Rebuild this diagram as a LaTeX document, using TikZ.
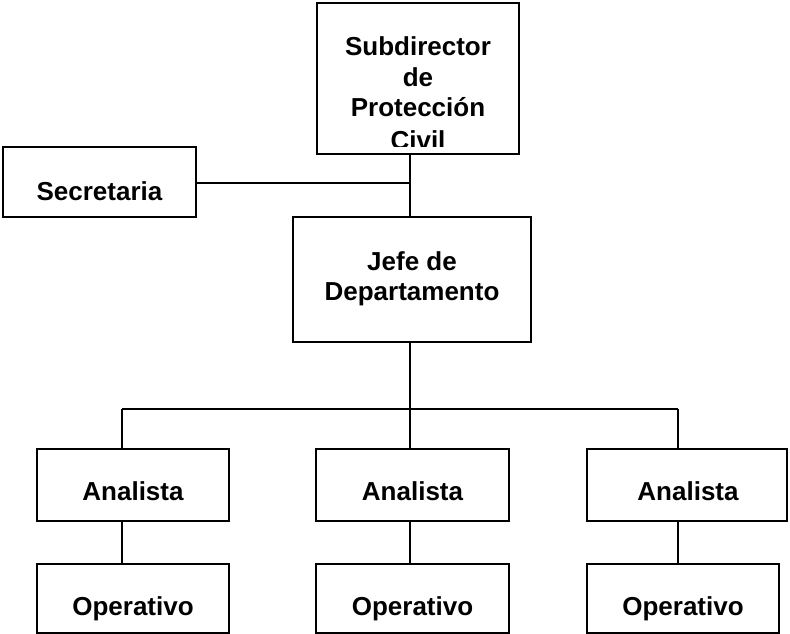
\documentclass[tikz,border=0pt]{standalone}
\usepackage{fontspec}
\setmainfont{Liberation Sans}
\begin{document}
\begin{tikzpicture}[x=1pt,y=-1pt,
  box/.style={draw=black, line width=1.8pt, rectangle, inner sep=0pt},
  lbl/.style={anchor=base, inner sep=0pt, font=\fontsize{26}{30}\selectfont\bfseries},
  conn/.style={draw=black, line width=1.6pt}]
\useasboundingbox (0,0) rectangle (790,634);
% boxes
\node[box, minimum width=202pt, minimum height=151pt] (top) at (418,78.5) {};
\node[box, minimum width=193pt, minimum height=70pt] (sec) at (99.5,182) {};
\node[box, minimum width=238pt, minimum height=125pt] (jefe) at (412,279.5) {};
\node[box, minimum width=192pt, minimum height=72pt] (a1) at (133,485) {};
\node[box, minimum width=193pt, minimum height=72pt] (a2) at (412.5,485) {};
\node[box, minimum width=200pt, minimum height=72pt] (a3) at (687,485) {};
\node[box, minimum width=192pt, minimum height=69pt] (o1) at (133,598.5) {};
\node[box, minimum width=193pt, minimum height=69pt] (o2) at (412.5,598.5) {};
\node[box, minimum width=192pt, minimum height=69pt] (o3) at (683,598.5) {};
% texts
\begin{scope}
\clip (317,3) rectangle (519,146.5);
\node[lbl] (t1) at (418,56) {Subdirector};
\node[lbl] (t2) at (418,86) {de};
\node[lbl] (t3) at (418,116) {Protección};
\node[lbl] (t4) at (418,149) {Civil};
\end{scope}
\node[lbl] (s1) at (99.5,200) {Secretaria};
\node[lbl] (j1) at (412,270) {Jefe de};
\node[lbl] (j2) at (412,300) {Departamento};
\node[lbl] (la1) at (133,500) {Analista};
\node[lbl] (la2) at (412.5,500) {Analista};
\node[lbl] (la3) at (688,500) {Analista};
\node[lbl] (lo1) at (133,615) {Operativo};
\node[lbl] (lo2) at (412.5,615) {Operativo};
\node[lbl] (lo3) at (683,615) {Operativo};
% connector coordinates
\coordinate (sx) at (410,183);
\coordinate (b1) at (122,409);
\coordinate (b2) at (410,409);
\coordinate (b3) at (678,409);
% connectors
\draw[conn] (top.south -| sx) -- (jefe.north -| sx);
\draw[conn] (sec.east |- sx) -- (sx);
\draw[conn] (jefe.south -| b2) -- (b2);
\draw[conn] (b1) -- (b3);
\draw[conn] (b1) -- (a1.north -| b1);
\draw[conn] (b2) -- (a2.north -| b2);
\draw[conn] (b3) -- (a3.north -| b3);
\draw[conn] (a1.south -| b1) -- (o1.north -| b1);
\draw[conn] (a2.south -| b2) -- (o2.north -| b2);
\draw[conn] (a3.south -| b3) -- (o3.north -| b3);
\end{tikzpicture}
\end{document}
